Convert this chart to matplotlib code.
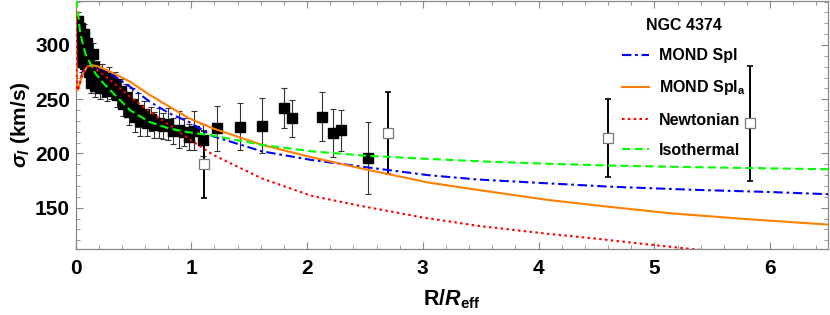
import matplotlib
matplotlib.use("Agg")
import matplotlib.pyplot as plt
from matplotlib.ticker import MultipleLocator
from matplotlib.lines import Line2D

plt.rcParams['font.family'] = ['Liberation Sans', 'DejaVu Sans']
plt.rcParams['mathtext.fontset'] = 'custom'
plt.rcParams['mathtext.rm'] = 'Liberation Sans:bold'
plt.rcParams['mathtext.it'] = 'Liberation Sans:italic:bold'
plt.rcParams['mathtext.bf'] = 'Liberation Sans:bold'

# ---------------- data ----------------
# inner (dense) filled data points
r_in = [0.02, 0.025, 0.03, 0.035, 0.04, 0.05, 0.055, 0.06, 0.07, 0.08, 0.085,
        0.10, 0.11, 0.12, 0.13, 0.15, 0.16, 0.17, 0.19, 0.21, 0.23, 0.25, 0.27,
        0.29, 0.31, 0.34, 0.36, 0.39, 0.41, 0.44, 0.46, 0.49, 0.51, 0.54, 0.56,
        0.59, 0.62, 0.65, 0.68, 0.72, 0.76, 0.80, 0.84, 0.89, 0.94, 0.98]
s_in = [322, 310, 298, 288, 316, 305, 292, 284, 310, 298, 282,
        302, 288, 275, 265, 292, 280, 262, 275, 260, 272, 262, 258,
        270, 260, 264, 254, 258, 246, 252, 238, 246, 234, 240, 230,
        236, 228, 232, 226, 228, 225, 227, 221, 222, 220, 215]
e_in = [8, 8, 8, 8, 9, 9, 9, 9, 9, 9, 9,
        9, 9, 9, 9, 10, 10, 10, 10, 10, 10, 10, 10,
        10, 10, 11, 11, 11, 11, 12, 12, 14, 14, 16, 14,
        12, 12, 11, 12, 14, 12, 15, 12, 17, 13, 12]

# outer filled data points
r_out = [1.02, 1.10, 1.22, 1.42, 1.61, 1.80, 1.87, 2.13, 2.22, 2.29, 2.53]
s_out = [220.8, 212.5, 223.2, 224.7, 225.7, 242.2, 232.4, 233.9, 219.2, 221.4, 195.6]
e_out = [18, 15, 21, 21.5, 25.6, 18.5, 17, 22.5, 22, 19, 33]

# open squares
r_open = [1.11, 2.70, 4.60, 5.83]
s_open = [190, 219, 214, 228]
e_open = [31, 38, 36, 53]

# model curves
r_iso = [0.0, 0.013, 0.04, 0.085, 0.17, 0.256, 0.34, 0.47, 0.64, 0.81, 0.98,
         1.185, 1.61, 2.04, 2.50, 3.05, 3.6, 4.1, 4.57, 5.3, 6.0, 6.5]
s_iso = [352, 338, 311, 292, 274, 263, 254, 240, 229, 223, 219.5,
         216.5, 208, 202, 198, 195, 192.3, 190.5, 189, 187.5, 186.3, 185.5]

r_spl = [0.0, 0.005, 0.012, 0.03, 0.06, 0.10, 0.14, 0.20, 0.30, 0.47, 0.64,
         0.81, 0.98, 1.185, 1.61, 2.04, 2.50, 3.05, 3.48, 4.08, 4.6, 5.35, 6.0, 6.5]
s_spl = [350, 300, 262, 262, 275, 281, 281.5, 279, 274, 261.6, 247.8,
         237, 229, 216, 202, 194, 187.5, 180, 176, 172.5, 169.5, 166.5, 164.5, 162.5]

r_spla = [0.0, 0.005, 0.010, 0.015, 0.03, 0.06, 0.10, 0.14, 0.20, 0.30, 0.47,
          0.64, 0.81, 0.98, 1.185, 1.61, 2.04, 2.50, 3.05, 3.48, 4.08, 4.6,
          5.13, 5.8, 6.5]
s_spla = [350, 300, 270, 258, 262, 273, 280, 281.5, 280, 275.4, 266.2,
          254, 243.2, 232.5, 223.2, 208, 196.5, 185.5, 173.2, 166.4, 157.2, 151,
          145, 139.5, 134.5]

r_newt = [0.0, 0.005, 0.010, 0.015, 0.03, 0.06, 0.10, 0.13, 0.20, 0.30, 0.47,
          0.64, 0.81, 0.98, 1.185, 1.61, 2.04, 2.45, 3.0, 3.48, 4.08, 4.5,
          4.92, 5.32, 5.5]
s_newt = [350, 300, 268, 258, 262, 273, 280, 281, 276, 267.7, 252.4,
          238.6, 226.3, 213.5, 199, 177, 161, 152, 141, 133.3, 126, 121.5,
          116.5, 112, 110]

legend_title = "NGC 4374"
labels = ["MOND Spl", r"MOND Spl$_{\mathrm{a}}$", "Newtonian", "Isothermal"]

# ---------------- figure ----------------
fig = plt.figure(figsize=(8.3, 3.15), dpi=100)
ax = fig.add_axes([75.5 / 830, 66 / 315, 752.5 / 830, 248 / 315])

# error bars and data squares
ax.errorbar(r_in, s_in, yerr=e_in, fmt='none', ecolor='#333333', elinewidth=0.8,
            capsize=2.2, capthick=0.8, zorder=2)
ax.errorbar(r_out, s_out, yerr=e_out, fmt='none', ecolor='#333333', elinewidth=0.8,
            capsize=2.2, capthick=0.8, zorder=2)
ax.errorbar(r_open, s_open, yerr=e_open, fmt='none', ecolor='black', elinewidth=1.4,
            capsize=2.2, capthick=1.2, zorder=2)
ax.plot(r_in, s_in, 's', color='black', markersize=7.4, zorder=3)
ax.plot(r_out, s_out, 's', color='black', markersize=7.4, zorder=3)
ax.plot(r_open, s_open, 's', markerfacecolor='white', markeredgecolor='#777777',
        markeredgewidth=0.9, markersize=7.8, zorder=3)

lw = 1.5
ax.plot(r_spl, s_spl, color='#0000ff', lw=lw, linestyle=(0, (4.5, 1.8, 1.3, 1.8)), zorder=4)
ax.plot(r_spla, s_spla, color='#ff8000', lw=lw, linestyle='-', zorder=5)
ax.plot(r_newt, s_newt, color='#ff0000', lw=lw, linestyle=(0, (1.2, 1.6)), zorder=6)
ax.plot(r_iso, s_iso, color='#00ff00', lw=lw, linestyle=(0, (4, 2)), zorder=7)

ax.set_xlim(0, 6.5)
ax.set_ylim(112, 340.5)

ax.xaxis.set_major_locator(MultipleLocator(1))
ax.xaxis.set_minor_locator(MultipleLocator(0.2))
ax.yaxis.set_major_locator(MultipleLocator(50))
ax.yaxis.set_minor_locator(MultipleLocator(10))
ax.set_yticks([150, 200, 250, 300])

frame_col = '#888888'
for sp in ax.spines.values():
    sp.set_color(frame_col)
    sp.set_linewidth(0.9)
ax.tick_params(which='both', direction='in', top=True, right=True, color=frame_col)
ax.tick_params(which='major', length=5, width=0.8)
ax.tick_params(which='minor', length=2.8, width=0.6)
ax.tick_params(axis='both', labelsize=15)
ax.tick_params(axis='x', pad=7)
ax.tick_params(axis='y', pad=4)
for t in ax.get_xticklabels() + ax.get_yticklabels():
    t.set_fontweight('bold')

ax.set_xlabel(r"$\mathrm{R}/R_{\mathrm{eff}}$", fontsize=15.5, labelpad=7)
ax.set_ylabel(r"$\sigma_{l}$ (km/s)", fontsize=15, fontweight='bold', labelpad=2)

handles = [
    Line2D([], [], color='#0000ff', lw=lw, linestyle=(0, (4.5, 1.8, 1.3, 1.8))),
    Line2D([], [], color='#ff8000', lw=lw, linestyle='-'),
    Line2D([], [], color='#ff0000', lw=lw, linestyle=(0, (1.2, 1.6))),
    Line2D([], [], color='#00ff00', lw=lw, linestyle=(0, (4, 2))),
]
leg = ax.legend(handles, labels, title=legend_title, loc='upper left',
                bbox_to_anchor=(622 / 830, 1 - 18 / 315), bbox_transform=fig.transFigure,
                frameon=False, borderpad=0, borderaxespad=0, handlelength=1.7,
                handletextpad=0.6, labelspacing=0.95,
                prop={'size': 11.5, 'weight': 'bold'},
                title_fontproperties={'size': 11.5, 'weight': 'bold'})
leg._legend_box.align = 'center'

fig.savefig("out.png", dpi=100)
